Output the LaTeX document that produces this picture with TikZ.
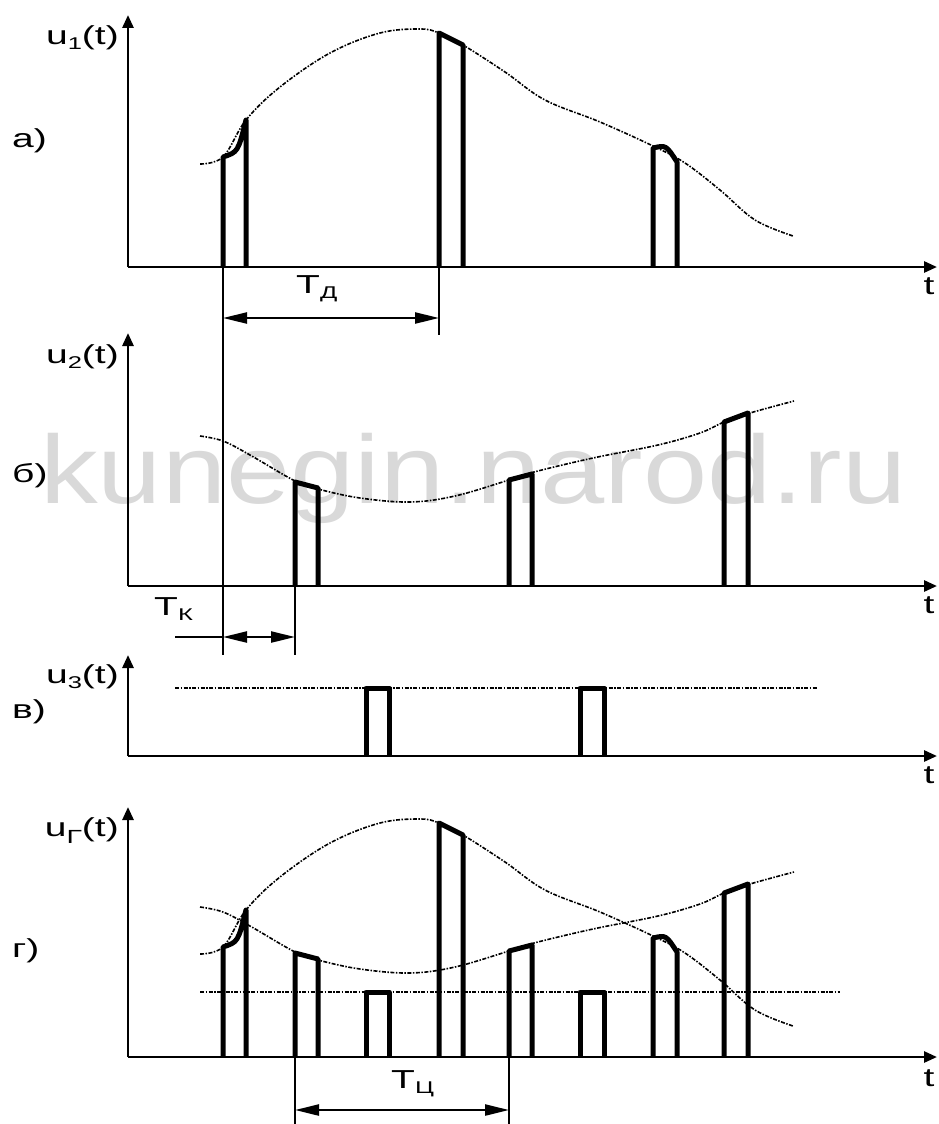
\documentclass[tikz,border=0pt]{standalone}
\usepackage{fontspec}
\setmainfont{Liberation Sans}
\newfontfamily\lblfont[FakeStretch=1.5]{Liberation Sans}
\newfontfamily\wmfont[FakeStretch=1.19]{Liberation Sans}
\usetikzlibrary{arrows.meta}

% lowered index of a label
\newcommand{\lowidx}[1]{\raisebox{-5pt}{\fontsize{17}{17}\selectfont #1}}

% pulses of u1(t) and their envelope, in the coordinates of panel a)
\newcommand{\pulsesA}{%
  \draw[pulse] (223,267) -- (223,157) .. controls (238,152) .. (246,120) -- (246,267);
  \draw[pulse] (439,267) -- (439,33) -- (463,45) -- (463,267);
  \draw[pulse] (653,267) -- (653,148) .. controls (666,145) .. (677,162) -- (677,267);
  \draw[envelope] plot[smooth, tension=0.6] coordinates {(200,164) (223,157) (246,120)
    (280,87) (330,53) (380,33) (420,29) (439,33) (463,45) (505,72) (545,100) (600,122)
    (653,146) (685,163) (720,190) (755,220) (793,236)};
}

% pulses of u2(t) and their envelope, in the coordinates of panel b)
\newcommand{\pulsesB}{%
  \draw[pulse] (295,586) -- (295,482) -- (318,488) -- (318,586);
  \draw[pulse] (509,586) -- (509,480) -- (532,474) -- (532,586);
  \draw[pulse] (724,586) -- (724,422) -- (748,413) -- (748,586);
  \draw[envelope] plot[smooth, tension=0.6] coordinates {(200,436) (223,441) (250,455)
    (295,481) (318,489) (360,498) (410,502) (455,496) (509,480) (534,472)
    (593,458) (658,445) (700,433) (724,422) (750,413) (794,401)};
}

\begin{document}
\begin{tikzpicture}[x=1pt, y=-1pt,
  axis/.style={line width=2.7pt, -{Triangle[length=13pt,width=11pt]}},
  pulse/.style={line width=5pt, line join=round},
  envelope/.style={line width=1.6pt, dash pattern=on 4pt off 1.5pt on 1.5pt off 1.5pt},
  dimline/.style={line width=2.8pt},
  dimarrow/.style={line width=2.4pt,
    {Triangle[length=24pt,width=11pt]}-{Triangle[length=24pt,width=11pt]}},
  lbl/.style={font=\lblfont\fontsize{26}{26}\selectfont, inner sep=0pt}]
  \useasboundingbox (0,0) rectangle (939,1124);

  % watermark
  \node[anchor=base west, inner sep=0pt, text=black!15,
    font=\wmfont\fontsize{97}{97}\selectfont] (wm) at (40,503) {kunegin.narod.ru};

  % axes
  \foreach \nm/\base/\top/\tl in {a/267/15/277, b/586/333/596, c/756/655/766, d/1057/807/1069} {
    \coordinate (o\nm) at (128,\base);
    \coordinate (y\nm) at (128,\top);
    \coordinate (x\nm) at (937,\base);
    \draw[axis] (o\nm) -- (y\nm);
    \draw[axis] (o\nm) -- (x\nm);
    \node[lbl, anchor=north] (t\nm) at (929,\tl) {t};
  }

  % axis labels
  \node[lbl, anchor=base east] (ua) at (119,45) {u\lowidx{1}(t)};
  \node[lbl, anchor=base east] (ub) at (119,363) {u\lowidx{2}(t)};
  \node[lbl, anchor=base east] (uc) at (119,683) {u\lowidx{3}(t)};
  \node[lbl, anchor=base east] (ud) at (119,836) {u\raisebox{-7pt}{\fontsize{19}{19}\selectfont Г}(t)};
  \node[lbl, anchor=base west] (pa) at (12,147) {а)};
  \node[lbl, anchor=base west] (pb) at (12,482) {б)};
  \node[lbl, anchor=base west] (pc) at (12,718) {в)};
  \node[lbl, anchor=base west] (pd) at (12,957) {г)};

  % a) samples of u1(t)
  \pulsesA

  % b) samples of u2(t)
  \pulsesB

  % c) samples of u3(t)
  \draw[envelope] (175,688) -- (817,688);
  \foreach \xl/\xr in {366/389, 580/604}
    \draw[pulse] (\xl,756) -- (\xl,688) -- (\xr,688) -- (\xr,756);

  % d) group signal
  \begin{scope}[shift={(0,790)}]
    \pulsesA
  \end{scope}
  \begin{scope}[shift={(0,471)}]
    \pulsesB
  \end{scope}
  \draw[envelope] (200,992) -- (840,992);
  \foreach \xl/\xr in {366/389, 580/604}
    \draw[pulse] (\xl,1057) -- (\xl,992) -- (\xr,992) -- (\xr,1057);

  % T_D
  \coordinate (tdA) at (223,267);
  \coordinate (tdB) at (223,655);
  \coordinate (tdC) at (439,267);
  \coordinate (tdD) at (439,335);
  \coordinate (tdL) at (223,318);
  \coordinate (tdR) at (439,318);
  \draw[dimline] (tdA) -- (tdB);
  \draw[dimline] (tdC) -- (tdD);
  \draw[dimarrow] (tdL) -- (tdR);
  \node[lbl, anchor=base west] (ltd) at (296,293) {Т\lowidx{Д}};

  % T_K
  \coordinate (tkA) at (295,586);
  \coordinate (tkB) at (295,655);
  \coordinate (tkS) at (175,637);
  \coordinate (tkL) at (223,637);
  \coordinate (tkR) at (295,637);
  \draw[dimline] (tkA) -- (tkB);
  \draw[dimline] (tkS) -- (tkL);
  \draw[dimarrow] (tkL) -- (tkR);
  \node[lbl, anchor=base west] (ltk) at (154,615) {Т\lowidx{К}};

  % T_C
  \coordinate (tcA) at (295,1057);
  \coordinate (tcB) at (295,1124);
  \coordinate (tcC) at (509,1057);
  \coordinate (tcD) at (509,1124);
  \coordinate (tcL) at (295,1110);
  \coordinate (tcR) at (509,1110);
  \draw[dimline] (tcA) -- (tcB);
  \draw[dimline] (tcC) -- (tcD);
  \draw[dimarrow] (tcL) -- (tcR);
  \node[lbl, anchor=base west] (ltc) at (391,1088) {Т\lowidx{Ц}};
\end{tikzpicture}
\end{document}
